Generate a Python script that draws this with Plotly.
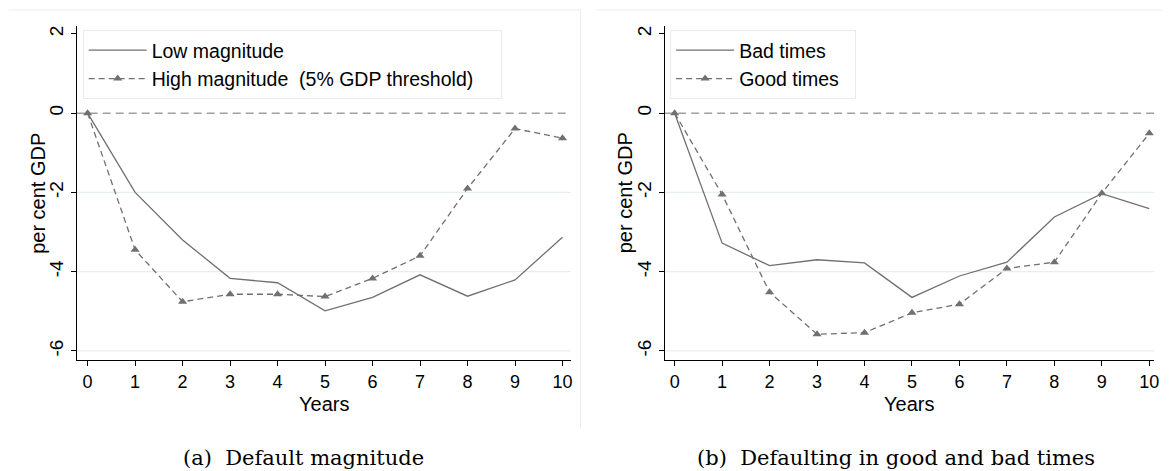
import plotly.graph_objects as go

years = list(range(11))

# panel (a): default magnitude
low_mag = [0, -2.0, -3.2, -4.17, -4.28, -4.99, -4.65, -4.08, -4.62, -4.21, -3.13]
high_mag = [0, -3.45, -4.76, -4.57, -4.57, -4.63, -4.17, -3.6, -1.9, -0.39, -0.63]

# panel (b): good vs bad times
bad_times = [0, -3.28, -3.85, -3.7, -3.78, -4.65, -4.11, -3.76, -2.62, -2.03, -2.41]
good_times = [0, -2.05, -4.52, -5.58, -5.54, -5.04, -4.82, -3.92, -3.76, -2.02, -0.51]

y_ticks = [-6, -4, -2, 0, 2]
y_ticktext = ["-6", "-4", "-2", "0", "2"]
captions = ["(a)  Default magnitude", "(b)  Defaulting in good and bad times"]

# the page body adds an 8px margin, so the figure starts at (8, 8) in the window
OFF = 8
W, H = 1170 - OFF, 471 - OFF
LINE = "#707070"
FONT = "Liberation Sans, Arial, sans-serif"


def px(x):
    return (x - OFF) / W


def py(y):
    return 1 - (y - OFF) / H


fig = go.Figure()


def add_panel(fig, n, y_solid, y_dash, name_solid, name_dash):
    xa = "x" if n == 1 else "x2"
    ya = "y" if n == 1 else "y2"
    lg = "legend" if n == 1 else "legend2"
    fig.add_trace(go.Scatter(
        x=years, y=y_solid, mode="lines", name=name_solid,
        line=dict(color=LINE, width=1.3),
        xaxis=xa, yaxis=ya, legend=lg
    ))
    fig.add_trace(go.Scatter(
        x=years, y=y_dash, mode="lines+markers", name=name_dash,
        line=dict(color=LINE, width=1.3, dash="6px,4px"),
        marker=dict(symbol="triangle-up", size=8, color=LINE),
        xaxis=xa, yaxis=ya, legend=lg
    ))


add_panel(fig, 1, low_mag, high_mag, "Low magnitude", "High magnitude  (5% GDP threshold)&nbsp;&nbsp;&nbsp;&nbsp;")
add_panel(fig, 2, bad_times, good_times, "Bad times", "Good times&nbsp;&nbsp;")

xaxis_common = dict(
    tickvals=years,
    ticks="outside", ticklen=5, tickcolor="black",
    showline=True, linecolor="black", linewidth=1.3,
    showgrid=False, zeroline=False,
    tickfont=dict(family=FONT, size=18, color="black"),
)
yaxis_common = dict(
    range=[-6.23, 2.2],
    tickvals=y_ticks, ticktext=y_ticktext,
    tickangle=-90,
    ticks="outside", ticklen=5, tickcolor="black",
    showline=True, linecolor="black", linewidth=1.3,
    showgrid=False, zeroline=False,
    tickfont=dict(family=FONT, size=19, color="black"),
)

legend_common = dict(
    bgcolor="white", bordercolor="#E3ECEE", borderwidth=1,
    font=dict(family=FONT, size=19.5, color="black"),
    xanchor="left", yanchor="top",
    itemwidth=58,
)

fig.update_layout(
    width=W, height=H,
    margin=dict(l=0, r=0, t=0, b=0),
    paper_bgcolor="white", plot_bgcolor="white",
    showlegend=True,
    xaxis=dict(xaxis_common, domain=[px(77), px(573)], anchor="y", range=[-0.23, 10.17]),
    yaxis=dict(yaxis_common, domain=[py(360), py(26)], anchor="x"),
    xaxis2=dict(xaxis_common, domain=[px(668), px(1159)], anchor="y2", range=[-0.2, 10.1]),
    yaxis2=dict(yaxis_common, domain=[py(360), py(26)], anchor="x2"),
    legend=dict(legend_common, x=px(83), y=py(30)),
    legend2=dict(legend_common, x=px(673), y=py(30)),
)

# light horizontal grid at the negative ticks, dashed zero reference line
for xr, yr in [("x domain", "y"), ("x2 domain", "y2")]:
    for v in y_ticks:
        if v < 0:
            fig.add_shape(type="line", xref=xr, yref=yr, x0=0, x1=1, y0=v, y1=v,
                          line=dict(color="#E6EFEF", width=1.2), layer="below")
    fig.add_shape(type="line", xref=xr, yref=yr, x0=0, x1=1, y0=0, y1=0,
                  line=dict(color="#A0A0A0", width=1.5, dash="8px,5px"), layer="below")

# axis titles
title_font = dict(family=FONT, size=20, color="black")
for xc, yc_left in [(325, 38), (913, 628)]:
    fig.add_annotation(text="Years", xref="paper", yref="paper", x=px(xc), y=py(404),
                       showarrow=False, xanchor="center", yanchor="middle", font=title_font)
    fig.add_annotation(text="per cent GDP", xref="paper", yref="paper", x=px(yc_left), y=py(193),
                       showarrow=False, xanchor="center", yanchor="middle", textangle=-90,
                       font=title_font)

# faint panel frames
frame = dict(color="#E6EFEF", width=1)
fig.add_shape(type="line", xref="paper", yref="paper", x0=px(9), x1=px(583),
              y0=py(10), y1=py(10), line=frame)
fig.add_shape(type="line", xref="paper", yref="paper", x0=px(583), x1=px(583),
              y0=py(10), y1=py(428), line=frame)
fig.add_shape(type="line", xref="paper", yref="paper", x0=px(599), x1=1.0,
              y0=py(10), y1=py(10), line=frame)

# sub-figure captions
for txt, xc in zip(captions, [305, 900]):
    fig.add_annotation(text=txt, xref="paper", yref="paper", x=px(xc), y=py(458),
                       showarrow=False, xanchor="center", yanchor="middle",
                       font=dict(family="DejaVu Serif, Liberation Serif, serif", size=21, color="black"))

fig.write_html("out.html")
